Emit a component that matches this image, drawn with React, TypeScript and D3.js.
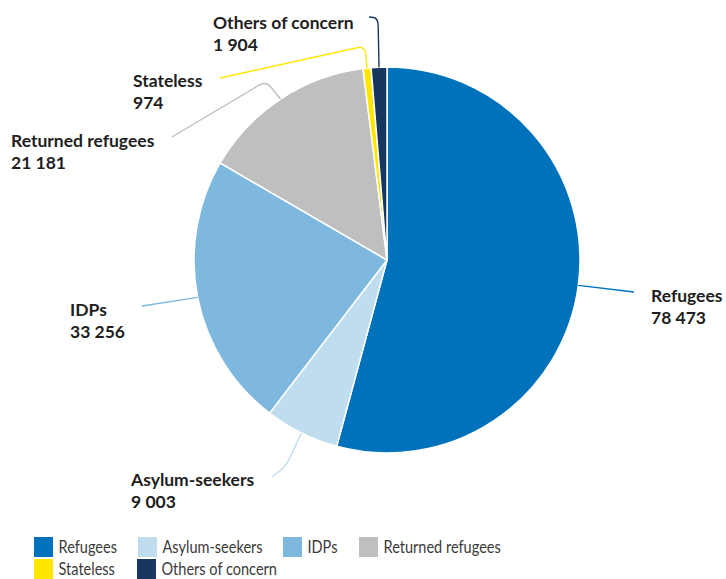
import React, { useMemo } from 'react';
import * as d3 from 'd3';

// Population categories and values
const categories = ['Refugees', 'Asylum-seekers', 'IDPs', 'Returned refugees', 'Stateless', 'Others of concern'];
const values = [78473, 9003, 33256, 21181, 974, 1904];
const valueLabels = ['78 473', '9 003', '33 256', '21 181', '974', '1 904'];
const colors = ['#0072BC', '#BFDDEF', '#7FB8DE', '#BFBFBF', '#FFE600', '#18375F'];

const WIDTH = 726;
const HEIGHT = 579;
const CX = 387;
const CY = 260;
const RADIUS = 193;

// Label layout: text position, leader elbow and leader end
const labelLayout = [
  { tx: 651, ty: 302, elbow: null, end: [634, 292] },
  { tx: 131, ty: 486, elbow: [286, 466], end: [272, 477] },
  { tx: 70, ty: 316, elbow: null, end: [142, 306] },
  { tx: 11, ty: 146.5, elbow: [266, 81], end: [172, 137] },
  { tx: 133, ty: 87, elbow: [365, 46], end: [220, 78] },
  { tx: 213, ty: 28.5, elbow: [378, 18], end: [369, 17] },
];

// rounded elbow path between three points
const leaderPath = (s: number[], e: number[] | null, t: number[]) => {
  if (!e) return `M${s[0]},${s[1]}L${t[0]},${t[1]}`;
  const r = 8;
  const d1 = Math.hypot(s[0] - e[0], s[1] - e[1]);
  const d2 = Math.hypot(t[0] - e[0], t[1] - e[1]);
  const a = [e[0] + (s[0] - e[0]) * Math.min(r, d1 / 2) / d1, e[1] + (s[1] - e[1]) * Math.min(r, d1 / 2) / d1];
  const b = [e[0] + (t[0] - e[0]) * Math.min(r, d2 / 2) / d2, e[1] + (t[1] - e[1]) * Math.min(r, d2 / 2) / d2];
  return `M${s[0]},${s[1]}L${a[0]},${a[1]}Q${e[0]},${e[1]} ${b[0]},${b[1]}L${t[0]},${t[1]}`;
};

const legendRows = [
  [{ i: 0, x: 34 }, { i: 1, x: 138 }, { i: 2, x: 283 }, { i: 3, x: 359 }],
  [{ i: 4, x: 34 }, { i: 5, x: 137 }],
];

const App: React.FC = () => {
  const arcs = useMemo(() => {
    const pie = d3.pie<number>().value(d => d).sort(null);
    return pie(values);
  }, []);

  const arc = d3.arc<d3.PieArcDatum<number>>().innerRadius(0).outerRadius(RADIUS);

  return (
    <svg
      width={WIDTH}
      height={HEIGHT}
      style={{ position: 'absolute', left: 0, top: 0, background: '#fff' }}
      fontFamily="Lato, 'Open Sans', sans-serif"
    >
      <g transform={`translate(${CX},${CY})`}>
        {arcs.map((a, i) => (
          <path key={categories[i]} d={arc(a) || ''} fill={colors[i]} stroke="#fff" strokeWidth={1.5} />
        ))}
      </g>

      {arcs.map((a, i) => {
        const mid = (a.startAngle + a.endAngle) / 2;
        const s = [CX + RADIUS * Math.sin(mid), CY - RADIUS * Math.cos(mid)];
        const l = labelLayout[i];
        return (
          <g key={`lbl-${i}`}>
            <path d={leaderPath(s, l.elbow, l.end)} fill="none" stroke={colors[i]} strokeWidth={1.4} />
            <text x={l.tx} y={l.ty} fontSize={17.5} fontWeight={700} fill="#1e1e1e">
              {categories[i]}
            </text>
            <text x={l.tx} y={l.ty + 22} fontSize={17.5} fontWeight={700} fill="#1e1e1e">
              {valueLabels[i]}
            </text>
          </g>
        );
      })}

      {legendRows.map((row, r) =>
        row.map(item => (
          <g key={`lg-${item.i}`} transform={`translate(${item.x},${537 + r * 22})`}>
            <rect width={19} height={20} fill={colors[item.i]} />
            <text transform="translate(24.5,16) scale(0.83,1)" fontSize={17.5} fill="#3a3a3a">
              {categories[item.i]}
            </text>
          </g>
        ))
      )}
    </svg>
  );
};

export default App;
